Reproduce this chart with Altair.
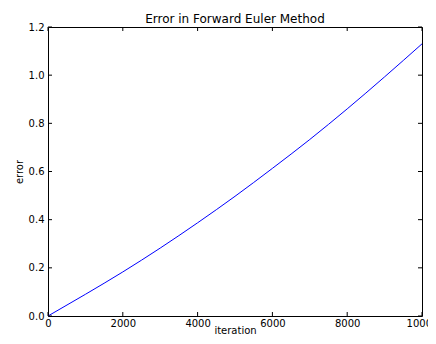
import altair as alt
import pandas as pd

iterations = [0, 1000, 2000, 3000, 4000, 5000, 6000, 7000, 8000, 9000, 10000]
errors = [0.0, 0.09, 0.183, 0.282, 0.387, 0.497, 0.613, 0.733, 0.860, 0.993, 1.13]
x_ticks = [0, 2000, 4000, 6000, 8000, 10000]
y_ticks = [0.0, 0.2, 0.4, 0.6, 0.8, 1.0, 1.2]

W, H = 374, 289
TL = 4

df = pd.DataFrame({"iteration": iterations, "error": errors})
xt = pd.DataFrame({"iteration": x_ticks})
yt = pd.DataFrame({"error": y_ticks})

xscale = alt.Scale(domain=[0, 10000], nice=False, zero=False)
yscale = alt.Scale(domain=[0, 1.2], nice=False, zero=False)

xaxis = alt.Axis(values=x_ticks, format="d", title="iteration", tickSize=0, domain=False,
                 grid=False, labelFlush=False, labelOverlap=False, labelBound=False,
                 labelPadding=2, titleY=17, titleBaseline="alphabetic")
yaxis = alt.Axis(values=y_ticks, format=".1f", title="error", tickSize=0, domain=False,
                 grid=False, labelFlush=False, labelOverlap=False, labelBound=False,
                 labelPadding=4, titlePadding=4)

X = alt.X("iteration:Q", scale=xscale, axis=xaxis)
Y = alt.Y("error:Q", scale=yscale, axis=yaxis)

line = alt.Chart(df).mark_line(color="#0000ff", strokeWidth=1, interpolate="monotone").encode(
    x=X, y=Y)

tick_style = dict(color="black", strokeWidth=1)
xb = alt.Chart(xt).mark_rule(**tick_style).encode(
    x=X, y=alt.value(H), y2=alt.value(H - TL))
xtp = alt.Chart(xt).mark_rule(**tick_style).encode(
    x=X, y=alt.value(0), y2=alt.value(TL))
yl = alt.Chart(yt).mark_rule(**tick_style).encode(
    y=Y, x=alt.value(0), x2=alt.value(TL))
yr = alt.Chart(yt).mark_rule(**tick_style).encode(
    y=Y, x=alt.value(W), x2=alt.value(W - TL))

chart = alt.layer(line, xb, xtp, yl, yr).properties(
    width=W, height=H,
    title=alt.TitleParams("Error in Forward Euler Method", fontSize=12, font="DejaVu Sans",
                          fontWeight="normal", color="black", offset=-4, frame="group"),
    autosize=alt.AutoSizeParams(type="none"),
    padding={"left": 40, "top": 19, "right": 6, "bottom": 20},
).configure_view(
    stroke="black", strokeWidth=1
).configure_axis(
    labelFont="DejaVu Sans", titleFont="DejaVu Sans", labelFontSize=10, titleFontSize=10,
    labelColor="black", titleColor="black", titleFontWeight="normal"
)

chart.save("out.html", embed_options={"renderer": "svg", "actions": False})
